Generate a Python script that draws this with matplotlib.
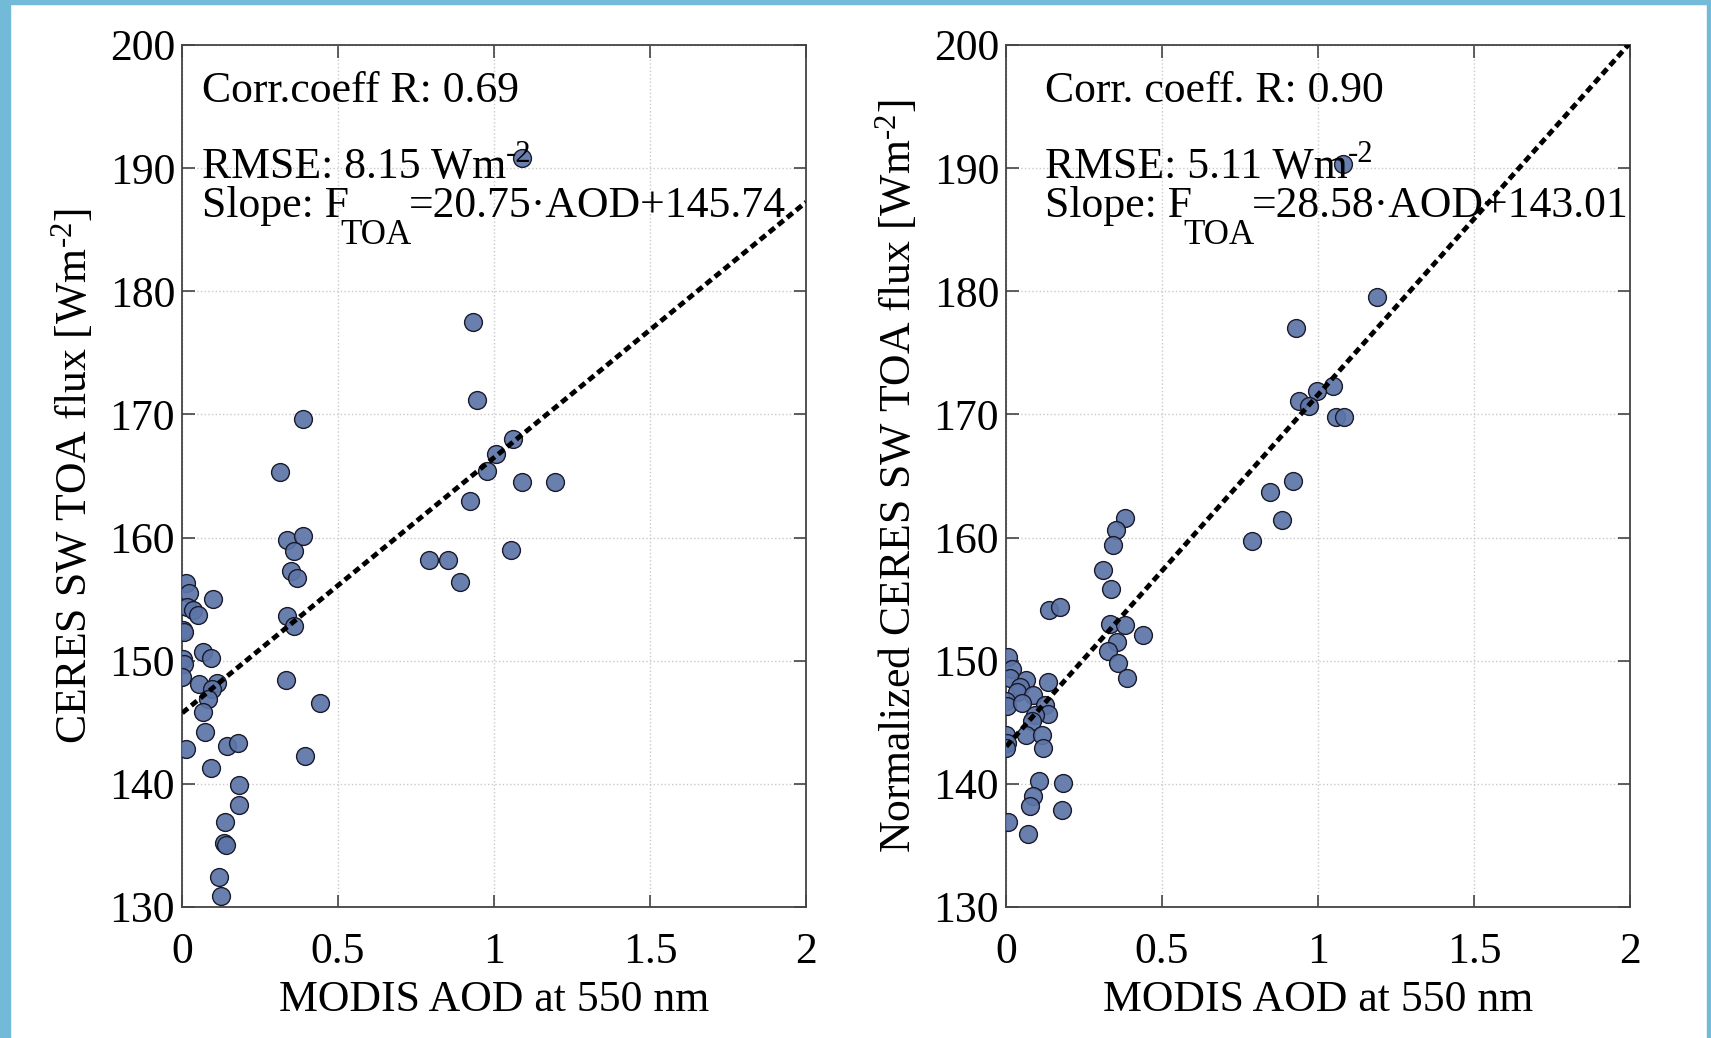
import matplotlib
matplotlib.use("Agg")
import matplotlib.pyplot as plt
from matplotlib.patches import Rectangle
import numpy as np

# ---- data: MODIS AOD vs CERES SW TOA flux ----
aod_raw = [1.090, 0.932, 0.946, 0.387, 0.314, 1.061, 1.005, 0.977, 1.089, 1.194,
           0.923, 1.053, 0.793, 0.854, 0.891, 0.335, 0.389, 0.359, 0.348, 0.368,
           0.335, 0.360, 0.333, 0.442, 0.394, 0.013, 0.022, 0.098, 0.015, 0.035,
           0.050, 0.002, 0.006, 0.068, 0.094, 0.004, 0.006, 0.001, 0.056, 0.111,
           0.095, 0.084, 0.068, 0.074, 0.013, 0.143, 0.178, 0.093, 0.184, 0.183,
           0.138, 0.135, 0.140, 0.120, 0.125]
flux_raw = [190.8, 177.5, 171.2, 169.6, 165.3, 168.0, 166.8, 165.4, 164.5, 164.5,
            163.0, 159.0, 158.2, 158.2, 156.4, 159.8, 160.1, 158.9, 157.3, 156.7,
            153.6, 152.8, 148.4, 146.6, 142.3, 156.3, 155.5, 155.0, 154.4, 154.1,
            153.7, 152.5, 152.3, 150.7, 150.2, 150.1, 149.7, 148.7, 148.1, 148.2,
            147.7, 146.9, 145.8, 144.2, 142.8, 143.1, 143.3, 141.3, 139.9, 138.3,
            136.9, 135.2, 135.0, 132.4, 130.9]

aod_norm = [1.080, 1.190, 0.928, 1.049, 0.996, 0.940, 0.972, 1.058, 1.083, 0.920,
            0.846, 0.885, 0.789, 0.381, 0.353, 0.344, 0.310, 0.336, 0.137, 0.173,
            0.333, 0.383, 0.438, 0.355, 0.328, 0.360, 0.387, 0.007, 0.018, 0.013,
            0.064, 0.134, 0.045, 0.034, 0.088, 0.001, 0.003, 0.050, 0.125, 0.136,
            0.093, 0.082, 0.001, 0.064, 0.115, 0.002, 0.001, 0.120, 0.107, 0.182,
            0.088, 0.077, 0.179, 0.007, 0.070]
flux_norm = [190.3, 179.5, 177.0, 172.3, 171.9, 171.1, 170.7, 169.8, 169.8, 164.6,
             163.7, 161.4, 159.7, 161.6, 160.6, 159.4, 157.4, 155.8, 154.1, 154.4,
             153.0, 152.9, 152.1, 151.5, 150.8, 149.8, 148.6, 150.3, 149.3, 148.6,
             148.4, 148.3, 147.9, 147.5, 147.2, 146.7, 146.3, 146.6, 146.4, 145.7,
             145.6, 145.1, 144.0, 144.0, 144.0, 143.3, 142.9, 142.9, 140.2, 140.1,
             139.0, 138.2, 137.9, 136.9, 135.9]

# fit statistics: slope, intercept, correlation, RMSE
fit_raw = (20.75, 145.74, 0.69, 8.15)
fit_norm = (28.58, 143.01, 0.90, 5.11)

x_ticks = [0, 0.5, 1, 1.5, 2]
x_ticklabels = ["0", "0.5", "1", "1.5", "2"]
y_ticks = [130, 140, 150, 160, 170, 180, 190, 200]

# ---- style ----
plt.rcParams["font.family"] = ["Liberation Serif", "DejaVu Serif"]
plt.rcParams["mathtext.fontset"] = "custom"
plt.rcParams["mathtext.rm"] = "Liberation Serif"
plt.rcParams["mathtext.it"] = "Liberation Serif:italic"
plt.rcParams["mathtext.bf"] = "Liberation Serif:bold"

FS = 31.5
W, H = 1711, 1038
fig = plt.figure(figsize=(W / 100, H / 100), dpi=100)

# light blue frame around the figure
frame_col = "#72BAD7"
for (x0, y0, w, h) in [(0, 0, 10, H), (0, H - 4, W, 4), (W - 4, 0, 4, H)]:
    fig.patches.append(Rectangle((x0 / W, y0 / H), w / W, h / H,
                                 transform=fig.transFigure, color=frame_col,
                                 zorder=0))

ax_h = 862 / H
ax_y = 1 - 907 / H
ax_w = 624 / W
axL = fig.add_axes([182 / W, ax_y, ax_w, ax_h])
axR = fig.add_axes([1006 / W, ax_y, ax_w, ax_h])

face = (0.36, 0.46, 0.66, 0.92)


def rich_line(ax, x, y, pieces):
    """Write a line of text made of (string, size_factor, dx, rise) pieces,
    each piece placed right after the previous one."""
    base = ax.text(x, y, pieces[0][0], fontsize=FS * pieces[0][1],
                   ha="left", va="baseline",
                   transform=ax.get_yaxis_transform(), zorder=5)
    prev = base
    for txt, fac, dx, rise in pieces[1:]:
        prev = ax.annotate(txt, xy=(1, 0), xycoords=(prev, base),
                           xytext=(dx * FS, rise * FS),
                           textcoords="offset points",
                           fontsize=FS * fac, ha="left", va="bottom",
                           zorder=5)
    return base


def draw(ax, x, y, fit, ylabel, corr_txt, tx):
    slope, icpt, r, rmse = fit
    ax.scatter(x, y, s=165, facecolor=face, edgecolor="#1a1a2a",
               linewidth=1.0, zorder=3)
    xs = np.array([min(x), 2.0])
    ax.plot(xs, slope * xs + icpt, color="black", lw=3.5,
            linestyle=(0, (1.5, 0.9)), zorder=4)
    ax.set_xlim(0, 2)
    ax.set_ylim(130, 200)
    ax.set_xticks(x_ticks)
    ax.set_xticklabels(x_ticklabels)
    ax.set_yticks(y_ticks)
    ax.grid(True, color="#c9c9c9", linestyle=":", linewidth=1.0, zorder=0)
    ax.tick_params(direction="in", length=9, width=1.2, color="#444444",
                   top=True, right=True, labelsize=FS)
    ax.tick_params(axis="x", pad=18)
    ax.tick_params(axis="y", pad=5)
    for sp in ax.spines.values():
        sp.set_color("#444444")
        sp.set_linewidth(1.3)
    ax.set_xlabel("MODIS AOD at 550 nm", fontsize=FS, labelpad=6)
    ax.set_ylabel(ylabel, fontsize=FS, labelpad=10)

    rich_line(ax, tx, 195.4, [(corr_txt, 1)])
    rich_line(ax, tx, 189.2, [("RMSE: %.2f Wm" % rmse, 1),
                              ("-2", 0.7, 0.0, 0.4)])
    rich_line(ax, tx, 186.0, [("Slope: F", 1),
                              ("TOA", 0.8, -0.2, -0.58),
                              ("=%.2f\u00b7AOD+%.2f" % (slope, icpt), 1,
                               -0.05, 0.0)])


draw(axL, aod_raw, flux_raw, fit_raw, r"CERES SW TOA flux [Wm$^{\text{-2}}$]",
     "Corr.coeff R: %.2f" % fit_raw[2], 0.0316)
draw(axR, aod_norm, flux_norm, fit_norm,
     r"Normalized CERES SW TOA flux [Wm$^{\text{-2}}$]",
     "Corr. coeff. R: %.2f" % fit_norm[2], 0.0625)

fig.savefig("out.png", dpi=100)
